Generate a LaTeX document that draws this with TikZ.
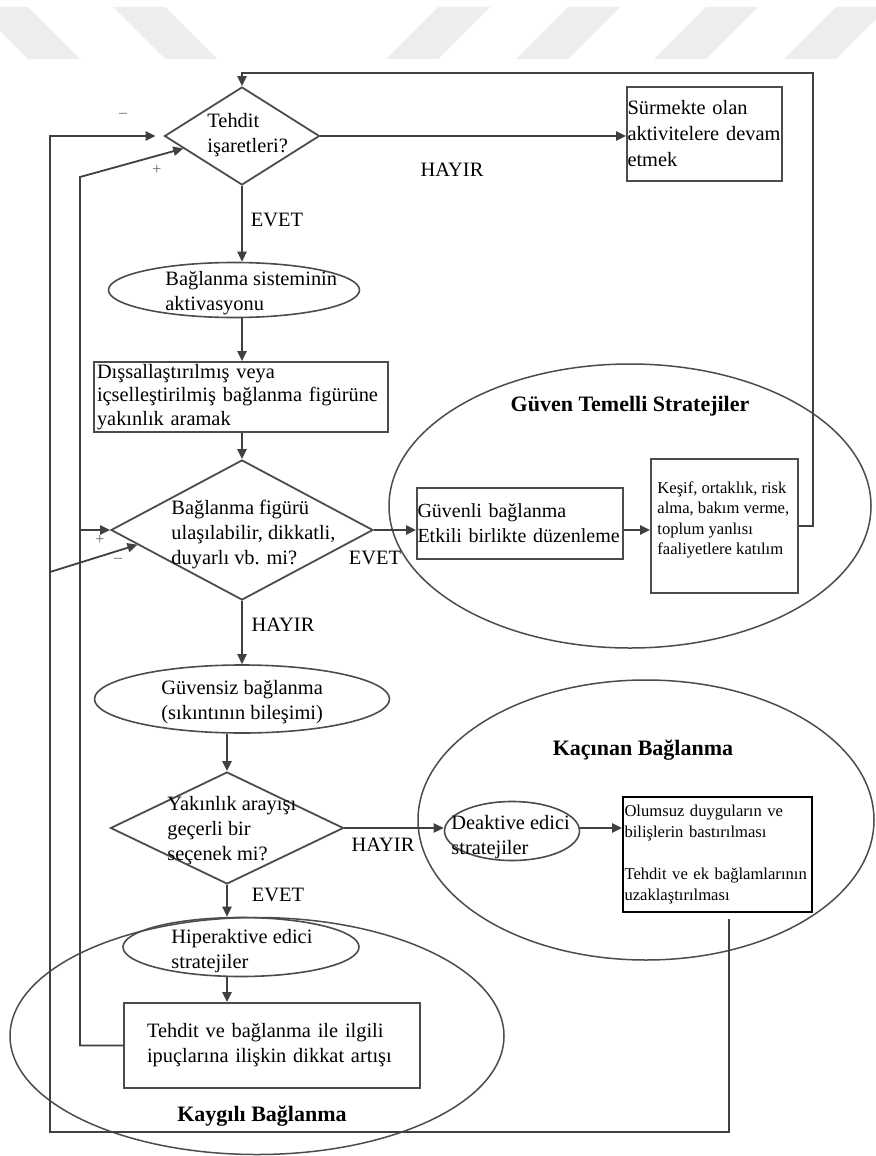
\documentclass[tikz,border=0pt]{standalone}
\usepackage{fontspec}
\setmainfont{Liberation Serif}
\usetikzlibrary{shapes.geometric,arrows.meta}

\begin{document}
\begin{tikzpicture}[x=0.5pt,y=-0.5pt,
    >={Triangle[length=5pt,width=4.6pt]},
    wline/.style={draw=black!75, line width=0.9pt},
    warrow/.style={wline, ->},
    region/.style={draw=black!70, line width=0.75pt, ellipse, inner sep=0pt},
    choice/.style={draw=black!70, line width=0.9pt, diamond, inner sep=0pt},
    oval/.style={draw=black!70, line width=0.8pt, ellipse, inner sep=0pt},
    box/.style={draw=black!70, line width=0.9pt, align=left, inner ysep=0pt,
      font=\fontsize{10.2}{12.5}\selectfont},
    txt/.style={anchor=west, align=left, inner sep=0pt, font=\fontsize{10.2}{12.5}\selectfont},
    smalltxt/.style={align=left, inner sep=0pt, font=\fontsize{8.3}{10.3}\selectfont},
    lbl/.style={inner sep=0pt, font=\fontsize{10.2}{12}\selectfont},
    sign/.style={inner sep=0pt, text=black!60, font=\fontsize{8}{8}\selectfont},
    title/.style={inner sep=0pt, font=\bfseries\fontsize{11}{13}\selectfont},
    wmstripe/.style={fill=black!7}]

  % page and watermark
  \fill[white] (0,0) rectangle (875,1156);
  \useasboundingbox (0,0) rectangle (875,1156);
  \foreach \s in {-24,113}
    \fill[wmstripe] (\s,7) -- ++(52,0) -- ++(52,52) -- ++(-52,0) -- cycle;
  \foreach \s in {438,568,706,836}
    \fill[wmstripe] (\s,7) -- ++(52,0) -- ++(-52,52) -- ++(-52,0) -- cycle;

  % strategy groups
  \node[region, minimum width=241pt, minimum height=142pt] (guven) at (630,506) {};
  \node[region, minimum width=228pt, minimum height=140pt] (kacinan) at (646,820) {};
  \node[region, minimum width=247pt, minimum height=118.5pt] (kaygili) at (257,1036) {};
  \node[title] (guvenT) at (630,406) {Güven Temelli Stratejiler};
  \node[title] (kacinanT) at (643,750) {Kaçınan Bağlanma};
  \node[title] (kaygiliT) at (262,1116) {Kaygılı Bağlanma};

  % threat cues
  \node[choice, minimum width=77.5pt, minimum height=49pt] (d1) at (242,136) {};
  \node[txt] (d1T) at (207,135) {Tehdit\\işaretleri?};
  \node[box, minimum width=77.5pt, minimum height=47pt, text width=77pt, inner xsep=0.25pt,
    font=\fontsize{10.2}{13}\selectfont] (surmekte) at (704.5,134) {Sürmekte olan\\aktivitelere devam\\etmek};

  % attachment system
  \node[oval, minimum width=125.5pt, minimum height=27.5pt] (e1) at (234,290) {};
  \node[txt] (e1T) at (165,293) {Bağlanma sisteminin\\aktivasyonu};
  \node[box, minimum width=147pt, minimum height=35pt, text width=144pt, inner xsep=1.5pt,
    font=\fontsize{10.2}{11.75}\selectfont] (b1) at (241,397) {Dışsallaştırılmış veya\\içselleştirilmiş bağlanma figürüne\\yakınlık aramak};

  % availability
  \node[choice, minimum width=131pt, minimum height=70pt] (d2) at (242,530) {};
  \node[txt] (d2T) at (171,535) {Bağlanma figürü\\ulaşılabilir, dikkatli,\\duyarlı vb. mi?};
  \node[box, minimum width=103pt, minimum height=35.5pt, text width=102.5pt, inner xsep=0.25pt,
    font=\fontsize{10}{12.5}\selectfont] (guvenli) at (520,523.5) {Güvenli bağlanma\\Etkili birlikte düzenleme};
  \node[box, minimum width=73.5pt, minimum height=67pt] (kesif) at (724.5,526) {};
  \node[smalltxt, anchor=west] (kesifT) at (657,520) {Keşif, ortaklık, risk\\alma, bakım verme,\\toplum yanlısı\\faaliyetlere katılım};
  \node[oval, minimum width=147.5pt, minimum height=34pt] (e2) at (242,699) {};
  \node[txt] (e2T) at (161,702) {Güvensiz bağlanma\\(sıkıntının bileşimi)};

  % proximity seeking
  \node[choice, minimum width=116.5pt, minimum height=56pt] (d3) at (227,828) {};
  \node[txt] (d3T) at (167,831) {Yakınlık arayışı\\geçerli bir\\seçenek mi?};
  \node[oval, minimum width=67.5pt, minimum height=29.5pt] (deakt) at (512,831) {};
  \node[txt] (deaktT) at (451,837) {Deaktive edici\\stratejiler};
  \node[box, draw=black, minimum width=94.5pt, minimum height=57.5pt, text width=93pt, inner xsep=0.75pt,
    font=\fontsize{8.3}{10.4}\selectfont] (olumsuz) at (717.5,854.5) {Olumsuz duyguların ve\\bilişlerin bastırılması\\[10.4pt]Tehdit ve ek bağlamlarının\\uzaklaştırılması};
  \node[oval, minimum width=118pt, minimum height=29.5pt] (hip) at (241,947) {};
  \node[txt] (hipT) at (171,951) {Hiperaktive edici\\stratejiler};
  \node[box, minimum width=148pt, minimum height=42.5pt, text width=125pt, inner xsep=11.5pt] (tbox) at (272,1045.5) {Tehdit ve bağlanma ile ilgili\\ipuçlarına ilişkin dikkat artışı};

  % connectors
  \coordinate (loopR) at (813,73);
  \coordinate (innerT) at (80,177);
  \coordinate (outerR) at (729,1132);
  \coordinate (outerL) at (50,1132);
  \coordinate (outerM) at (50,572);
  \draw[warrow] (d1.east) -- (surmekte.west |- d1.east);
  \draw[warrow] (d1.south) -- (e1.north -| d1.south);
  \draw[warrow] (e1.south -| d1.south) -- (b1.north -| d1.south);
  \draw[warrow] (b1.south -| d2.north) -- (d2.north);
  \draw[warrow] (d2.east) -- (guvenli.west |- d2.east);
  \draw[warrow] (guvenli.east |- d2.east) -- (kesif.west |- d2.east);
  \draw[warrow] (kesif.east) -| (loopR) -| (d1.north);
  \draw[warrow] (d2.south) -- (e2.north);
  \draw[warrow] (e2.south -| d3.north) -- (d3.north);
  \draw[warrow] (d3.east) -- (deakt.west |- d3.east);
  \draw[warrow] (deakt.east |- d3.east) -- (olumsuz.west |- d3.east);
  \draw[warrow] (d3.south) -- (hip.north -| d3.south);
  \draw[warrow] (hip.south -| d3.south) -- (tbox.north -| d3.south);
  % feedback loops
  \draw[warrow] (tbox.west) -| (innerT) -- (d1.192);
  \draw[warrow] (innerT |- d2.west) -- (d2.west);
  \draw[warrow] ([yshift=-3pt]olumsuz.south -| outerR) -- (outerR) -- (outerL) |- ([xshift=-4pt]d1.west);
  \draw[warrow] (outerM) -- (d2.188);

  % labels
  \node[lbl] (hayir1) at (452,170) {HAYIR};
  \node[lbl] (evet1) at (277,220) {EVET};
  \node[lbl] (evet2) at (375,558) {EVET};
  \node[lbl] (hayir2) at (283,625) {HAYIR};
  \node[lbl] (hayir3) at (383,845) {HAYIR};
  \node[lbl] (evet3) at (278,895) {EVET};
  \node[sign] (minus1) at (123,115) {–};
  \node[sign] (plus1) at (157,170) {+};
  \node[sign] (plus2) at (100,540) {+};
  \node[sign] (minus2) at (118,560) {–};
\end{tikzpicture}
\end{document}
